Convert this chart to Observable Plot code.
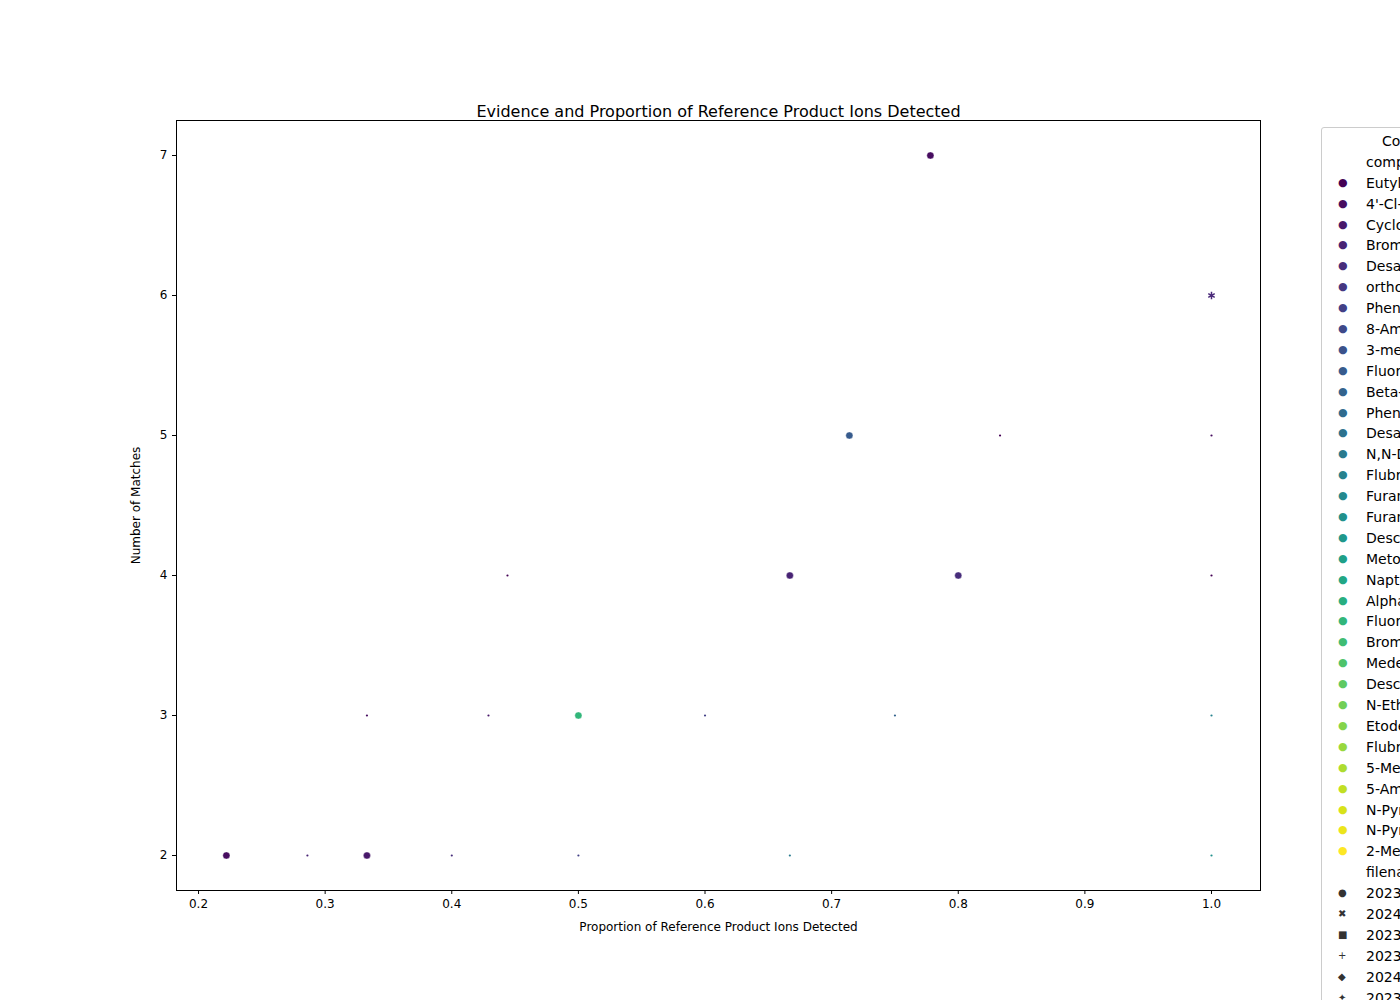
<!DOCTYPE html>
<html><head><meta charset="utf-8">
<script src="https://cdn.jsdelivr.net/npm/d3@7"></script>
<script src="https://cdn.jsdelivr.net/npm/@observablehq/plot@0.6"></script>
<style>
body{margin:0;font-family:"DejaVu Sans",sans-serif;overflow:hidden;width:1400px;height:1000px;position:relative}
#legend{position:absolute;left:1321px;top:127px;width:200px;border:1px solid #ccc;border-radius:3px;font-size:14px;background:#fff;padding-top:3px}
#legend div{height:20.9px;line-height:20.9px;white-space:nowrap;position:relative}
#legend span.m{position:absolute;left:16px;top:0;font-size:11px}
#legend span.t{position:absolute;left:44px}
</style></head><body>
<div id="myplot"></div>
<div id="legend"></div>
<script>
const compounds = ["Eutylone","4'-Cl-PVP","Cyclohexylphenidine","Bromazolam","Desalkylflurazepam","ortho-Methylfentanyl","Phenibut","8-Aminoclonazolam","3-methylmethcathinone","Fluorexetamine","Beta-Hydroxythiofentanyl","Phenazepam","Desalkylgidazepam","N,N-Dimethylpentylone","Flubromazepam","Furanylfentanyl","Furanylnorfentanyl","Deschloroetizolam","Metonitazene","Napthyrone","Alpha-PHP","Fluoroethamphetamine","Bromazepam","Medetomidine","Deschloroketamine","N-Ethylpentylone","Etodesnitazene","Flubromazolam","5-MeO-DMT","5-Amino-clonazolam","N-Pyrrolidino protonitazene","N-Pyrrolidino etonitazene","2-Methyl-AP-237"];
const files = ["2023-01","2024-01","2023-02","2023-03","2024-02","2023-04"];
const fileSymbols = ["●","✖","■","+","◆","✦"];

// proportion, matches, compound index, big marker?
const px = [0.778,1.0,0.714,0.833,1.0,0.444,0.667,0.8,1.0,0.333,0.429,0.5,0.6,0.75,1.0,0.222,0.286,0.333,0.4,0.5,0.667,1.0];
const py = [7,6,5,5,5,4,4,4,4,3,3,3,3,3,3,2,2,2,2,2,2,2];
const pc = [1,3,9,0,1,0,3,4,0,1,2,21,6,10,14,1,3,2,4,6,13,16];
const pbig = [1,0,1,0,0,0,1,1,0,0,0,1,0,0,0,1,0,1,0,0,0,0];

const color = (i) => d3.interpolateViridis(i / (compounds.length - 1));
const data = px.map((x, i) => ({x, y: py[i], c: color(pc[i]), big: pbig[i]}));

const plot = Plot.plot({
  width: 1400, height: 1000,
  marginLeft: 176, marginRight: 140, marginTop: 120, marginBottom: 110,
  style: {fontFamily: "DejaVu Sans", fontSize: "12px", color: "#000"},
  x: {domain: [0.1826, 1.0387]},
  y: {domain: [1.75, 7.25]},
  marks: [
    Plot.frame({stroke: "#000"}),
    Plot.axisX({ticks: d3.range(0.2, 1.01, 0.1), tickFormat: d3.format(".1f"), tickSize: 4, fontSize: 12, label: "Proportion of Reference Product Ions Detected", labelAnchor: "center", labelArrow: "none", labelOffset: 40}),
    Plot.axisY({ticks: [2,3,4,5,6,7], tickFormat: d3.format("d"), tickSize: 4, fontSize: 12, label: "Number of Matches", labelAnchor: "center", labelArrow: "none", labelOffset: 45}),
    Plot.dot(data.filter(d => d.big), {x: "x", y: "y", fill: "c", r: 3.6, stroke: "white", strokeWidth: 0.4}),
    Plot.dot(data.filter(d => !d.big), {x: "x", y: "y", fill: "c", r: 1.1}),
    Plot.dot([data[1]], {x: "x", y: "y", symbol: "asterisk", r: 3.5, stroke: "#4a2a7a", strokeWidth: 1.5}),
    Plot.text(["Evidence and Proportion of Reference Product Ions Detected"], {frameAnchor: "top", dy: -15, fontSize: 16})
  ]
});
document.querySelector("#myplot").append(plot);

const lg = document.querySelector("#legend");
let html = `<div><span class="t" style="left:60px">Compound</span></div><div><span class="t">compound</span></div>`;
compounds.forEach((c, i) => {
  html += `<div><span class="m" style="color:${color(i)}">●</span><span class="t">${c}</span></div>`;
});
html += `<div><span class="t">filename</span></div>`;
files.forEach((f, i) => {
  html += `<div><span class="m" style="color:#333;font-size:10px">${fileSymbols[i]}</span><span class="t">${f}</span></div>`;
});
lg.innerHTML = html;
</script>
</body></html>
